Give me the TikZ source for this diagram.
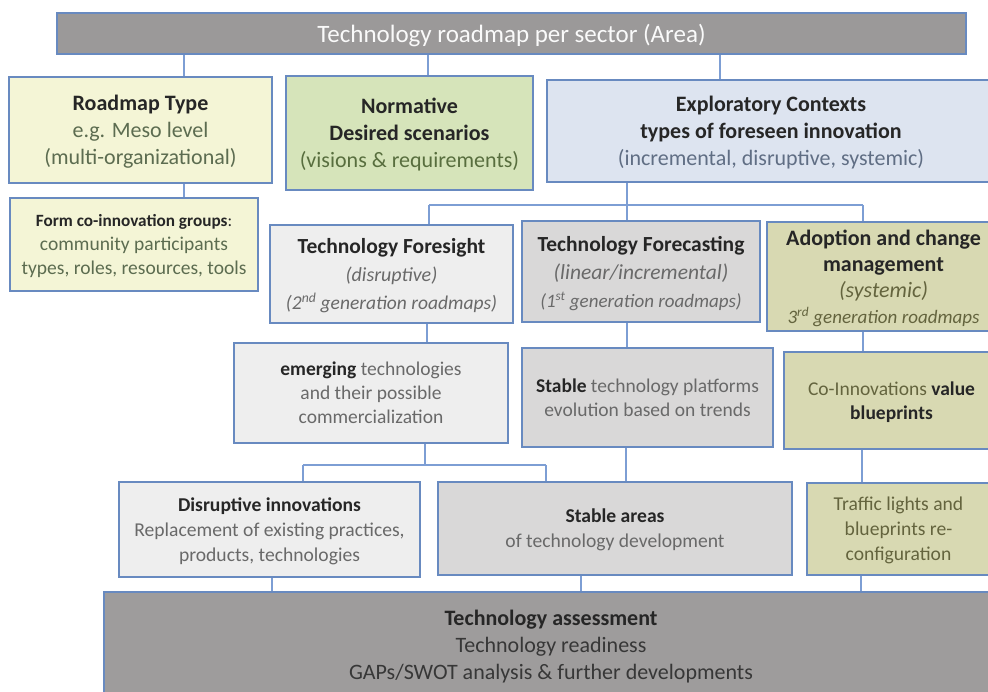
\documentclass[tikz,border=0pt]{standalone}
\usepackage{fontspec}
\setmainfont{Carlito}
\definecolor{bordc}{RGB}{104,138,192}
\definecolor{connc}{RGB}{125,158,212}
\definecolor{topfill}{RGB}{155,153,153}
\definecolor{yel}{RGB}{244,245,214}
\definecolor{grn}{RGB}{214,228,186}
\definecolor{blu}{RGB}{221,228,240}
\definecolor{lgray}{RGB}{238,238,238}
\definecolor{mgray}{RGB}{217,216,216}
\definecolor{olive}{RGB}{216,217,178}
\definecolor{agray}{RGB}{158,156,156}
\definecolor{tdark}{RGB}{38,38,38}
\definecolor{tyel}{RGB}{92,108,80}
\definecolor{tgrn}{RGB}{88,110,62}
\definecolor{tblu}{RGB}{96,110,132}
\definecolor{tgray}{RGB}{105,105,105}
\definecolor{tolive}{RGB}{100,100,62}
\definecolor{tass}{RGB}{55,55,55}
\newcommand{\fsz}[2]{\fontsize{#1}{#2}\selectfont}
\tikzset{
  box/.style={draw=bordc, line width=1.6pt, align=center, inner sep=0pt, text=tdark, text depth=0pt},
  conn/.style={draw=connc, line width=1.2pt},
  fA/.style={font={\fontsize{22}{27}\selectfont}},
  fB/.style={font={\fontsize{19.5}{24}\selectfont}},
  fC/.style={font={\fontsize{21.5}{28}\selectfont}},
  fD/.style={font={\fontsize{19.6}{25}\selectfont}},
}
\begin{document}
\begin{tikzpicture}[x=1pt,y=-1pt]
\useasboundingbox (0,0) rectangle (988,691);
\clip (0,0) rectangle (988,691);
% nodes
\node[box, fill=topfill, minimum width=909pt, minimum height=41pt, text=white!96!gray,
      font={\fontsize{25}{27}\selectfont}] (top) at (511.5,33.5) {Technology roadmap per sector (Area)};
\node[box, fill=yel, fA, minimum width=263pt, minimum height=106pt] (rt) at (140.5,130)
  {\textbf{Roadmap Type}\\\color{tyel}e.g. Meso level\\\color{tyel}(multi-organizational)};
\node[box, fill=grn, fA, minimum width=247pt, minimum height=114pt] (norm) at (409.5,133)
  {\textbf{Normative}\\\textbf{Desired scenarios}\\\color{tgrn}(visions \& requirements)};
\node[box, fill=blu, fA, minimum width=448pt, minimum height=102pt] (expl) at (771,131)
  {\textbf{Exploratory Contexts}\\\textbf{types of foreseen innovation}\\\color{tblu}(incremental, disruptive, systemic)};
\node[box, fill=yel, fB, minimum width=248pt, minimum height=93pt] (form) at (134,244.5)
  {\fsz{17.2}{24}\textbf{Form co-innovation groups}:\\\color{tyel}community participants\\\color{tyel}types, roles, resources, tools};
\node[box, fill=lgray, fC, minimum width=243pt, minimum height=98pt] (fsight) at (391.5,274)
  {\textbf{Technology Foresight}\\\color{tgray}\fsz{20}{28}\textit{(disruptive)}\\\color{tgray}\fsz{19.5}{28}\textit{(2\textsuperscript{nd} generation roadmaps)}};
\node[box, fill=mgray, fC, minimum width=238pt, minimum height=101pt] (fcast) at (641,271.5)
  {\textbf{Technology Forecasting}\\\color{tgray}\fsz{21.5}{28}\textit{(linear/incremental)}\\\color{tgray}\fsz{19}{25}\textit{(1\textsuperscript{st} generation roadmaps)}};
\node[box, fill=olive, font={\fontsize{22}{26}\selectfont}, minimum width=233pt, minimum height=109pt] (adopt) at (883.5,276.5)
  {\textbf{Adoption and change}\\\textbf{management}\\\color{tolive}\textit{(systemic)}\\\color{tolive}\fsz{19}{24}\textit{3\textsuperscript{rd} generation roadmaps}};
\node[box, fill=lgray, fB, minimum width=274pt, minimum height=100pt] (emerg) at (371,393)
  {\textbf{emerging} \color{tgray}technologies\\\color{tgray}and their possible\\\color{tgray}commercialization};
\node[box, fill=mgray, fB, minimum width=251pt, minimum height=99pt] (stplat) at (647.5,397.5)
  {\textbf{Stable} \color{tgray}technology platforms\\\color{tgray}evolution based on trends};
\node[box, fill=olive, fB, minimum width=215pt, minimum height=97pt] (coinno) at (891.5,400.5)
  {{\color{tolive}Co-Innovations} \textbf{value}\\\textbf{blueprints}};
\node[box, fill=lgray, fD, minimum width=301pt, minimum height=95pt] (disinn) at (269.5,529.5)
  {\textbf{Disruptive innovations}\\\color{tgray}Replacement of existing practices,\\\color{tgray}products, technologies};
\node[box, fill=mgray, fD, minimum width=354pt, minimum height=93pt] (starea) at (615,528.5)
  {\textbf{Stable areas}\\\color{tgray}of technology development};
\node[box, fill=olive, fD, minimum width=183pt, minimum height=92pt] (traffic) at (898.5,529)
  {\color{tolive}Traffic lights and\\\color{tolive}blueprints re-\\\color{tolive}configuration};
\node[box, fill=agray, font={\fontsize{22}{27}\selectfont}, minimum width=894pt, minimum height=106pt] (assess) at (551,645)
  {\textbf{Technology assessment}\\\color{tass}Technology readiness\\\color{tass}GAPs/SWOT analysis \& further developments};
% connector x positions
\coordinate (xa) at (184,0);
\coordinate (xb) at (428,0);
\coordinate (xc) at (720,0);
\coordinate (bus1) at (627,205);
\coordinate (xf) at (429,0);
\coordinate (xg) at (863,0);
\coordinate (xe) at (427,0);
\coordinate (bus2) at (425,465);
\coordinate (xd1) at (303,0);
\coordinate (xd2) at (546,0);
\coordinate (xs) at (626,0);
\coordinate (xt) at (862,0);
\coordinate (xq1) at (272,0);
\coordinate (xq2) at (581,0);
\coordinate (xq3) at (861,0);
% connectors
\draw[conn] (top.south -| xa) -- (rt.north -| xa);
\draw[conn] (top.south -| xb) -- (norm.north -| xb);
\draw[conn] (top.south -| xc) -- (expl.north -| xc);
\draw[conn] (rt.south -| xa) -- (form.north -| xa);
\draw[conn] (expl.south -| bus1) -- (bus1);
\draw[conn] (bus1 -| xf) -- (bus1 -| xg);
\draw[conn] (bus1 -| xf) -- (fsight.north -| xf);
\draw[conn] (bus1) -- (fcast.north -| bus1);
\draw[conn] (bus1 -| xg) -- (adopt.north -| xg);
\draw[conn] (fsight.south -| xe) -- (emerg.north -| xe);
\draw[conn] (fcast.south -| bus1) -- (stplat.north -| bus1);
\draw[conn] (adopt.south -| xg) -- (coinno.north -| xg);
\draw[conn] (emerg.south -| bus2) -- (bus2);
\draw[conn] (bus2 -| xd1) -- (bus2 -| xd2);
\draw[conn] (bus2 -| xd1) -- (disinn.north -| xd1);
\draw[conn] (bus2 -| xd2) -- (starea.north -| xd2);
\draw[conn] (stplat.south -| xs) -- (starea.north -| xs);
\draw[conn] (coinno.south -| xt) -- (traffic.north -| xt);
\draw[conn] (disinn.south -| xq1) -- (assess.north -| xq1);
\draw[conn] (starea.south -| xq2) -- (assess.north -| xq2);
\draw[conn] (traffic.south -| xq3) -- (assess.north -| xq3);
\end{tikzpicture}
\end{document}
